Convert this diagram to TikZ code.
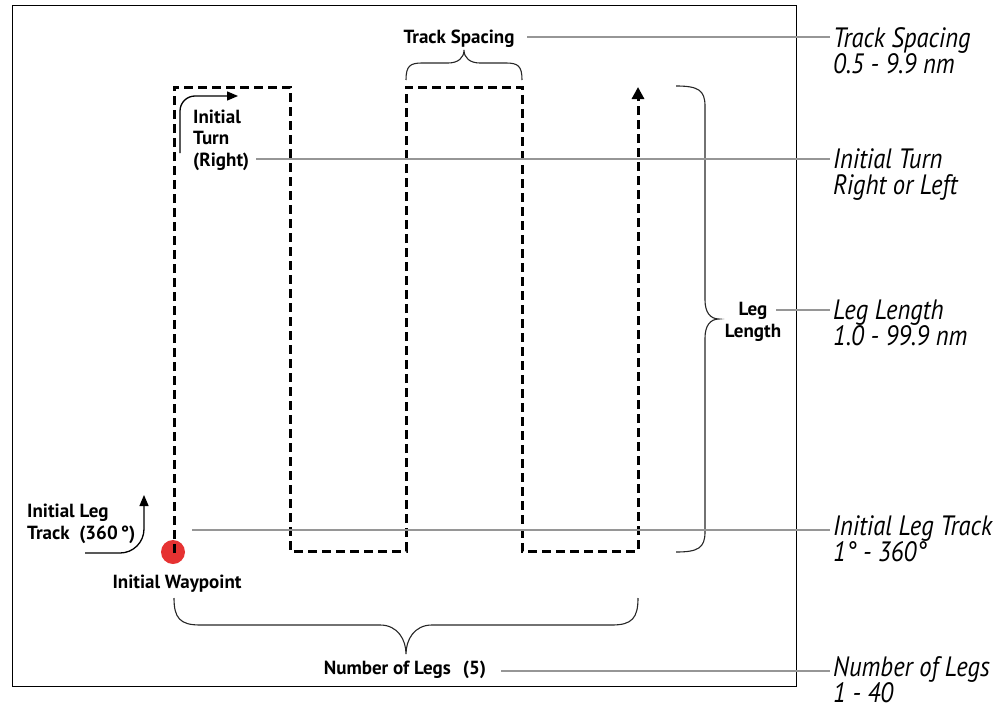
\documentclass[tikz,border=0pt]{standalone}
\usepackage{fontspec}
\setmainfont{PT Sans}
\newfontfamily\rfont{PT Sans}[FakeStretch=0.88]
\usetikzlibrary{arrows.meta}
\definecolor{wpred}{RGB}{230,50,50}
\definecolor{leadgray}{RGB}{150,150,150}
\begin{document}
\begin{tikzpicture}[x=1pt,y=-1pt,
  lbl/.style={font=\bfseries\fontsize{19}{21.5}\selectfont, inner sep=0pt},
  rlbl/.style={font=\rfont\itshape\fontsize{28}{26}\selectfont, align=left, anchor=base west, inner sep=0pt},
  lead/.style={draw=leadgray, line width=2pt},
  trackline/.style={line width=3pt, dash pattern=on 9pt off 5pt},
  bracel/.style={line width=1.1pt, black!85},
  turnarrow/.style={line width=1.3pt, -{Triangle[length=11pt,width=9pt]}}
]
\useasboundingbox (0,0) rectangle (998,709);
% frame
\node[draw, line width=1.4pt, minimum width=784pt, minimum height=681pt, anchor=north west, inner sep=0pt] (frame) at (12,5) {};
% track corners
\coordinate (p0) at (174,553);
\coordinate (p1) at (174,87);
\coordinate (p2) at (290,87);
\coordinate (p3) at (290,551);
\coordinate (p4) at (406,551);
\coordinate (p5) at (406,87);
\coordinate (p6) at (522,87);
\coordinate (p7) at (522,551);
\coordinate (p8) at (638,551);
\coordinate (p9) at (638,87);
\node[circle, fill=wpred, minimum size=24pt, inner sep=0pt] (wp) at (173,552) {};
\draw[trackline, -{Triangle[length=12pt,width=12pt]}] (p0) -- (p1) -- (p2) -- (p3) -- (p4) -- (p5) -- (p6) -- (p7) -- (p8) -- (p9);
% initial turn arrow
\coordinate (ta0) at (180,153);
\coordinate (ta1) at (238,96);
\draw[turnarrow, rounded corners=15pt] (ta0) |- (ta1);
% initial leg track arrow
\coordinate (la0) at (85,553);
\coordinate (la1) at (144,495);
\draw[turnarrow, rounded corners=24pt] (la0) -| (la1);
% braces
\draw[bracel] (406,80) .. controls (406,66) and (410,63) .. (422,63) -- (448,63) .. controls (458,63) and (464,58) .. (464,50) .. controls (464,58) and (470,63) .. (480,63) -- (506,63) .. controls (518,63) and (522,66) .. (522,80);
\draw[bracel] (676,86) .. controls (698,86) and (705,90) .. (705,106) -- (705,300) .. controls (705,312) and (710,319) .. (719,319) .. controls (710,319) and (705,326) .. (705,338) -- (705,532) .. controls (705,548) and (698,552) .. (676,552);
\draw[bracel] (174,598) .. controls (174,618) and (180,625) .. (200,625) -- (380,625) .. controls (398,625) and (406,640) .. (406,654) .. controls (406,640) and (414,625) .. (432,625) -- (612,625) .. controls (632,625) and (638,618) .. (638,598);
% bold labels (multi-line nodes: base = last line)
\node[lbl, anchor=base] (tsl) at (459,44) {Track Spacing};
\node[lbl, align=left, anchor=base west] (itl) at (193,166) {Initial\\Turn\\(Right)};
\node[lbl, align=center, anchor=base] (lll) at (753,337) {Leg\\Length};
\node[lbl, align=left, anchor=base west] (iltl) at (27,539) {Initial Leg\\Track\ \ (360\,°)};
\node[lbl, anchor=base] (iwl) at (177,588) {Initial Waypoint};
\node[lbl, anchor=base] (nll) at (405,674) {Number of Legs\hspace{12pt}(5)};
% right labels (base = second line)
\node[rlbl] (tsr) at (833,74) {Track Spacing\\0.5 - 9.9 nm};
\node[rlbl] (itr) at (833,194) {Initial Turn\\Right or Left};
\node[rlbl] (llr) at (833,345) {Leg Length\\1.0 - 99.9 nm};
\node[rlbl] (iltr) at (833,561) {Initial Leg Track\\1° - 360°};
\node[rlbl] (nlr) at (833,702) {Number of Legs\\1 - 40};
% leader lines
\coordinate (ts0) at (527,37);  \coordinate (ts1) at (830,37);
\coordinate (it0) at (256,159); \coordinate (it1) at (830,159);
\coordinate (ll0) at (776,310); \coordinate (ll1) at (830,310);
\coordinate (ilt0) at (192,530); \coordinate (ilt1) at (830,530);
\coordinate (nl0) at (501,671); \coordinate (nl1) at (830,671);
\draw[lead] (ts0) -- (ts1);
\draw[lead] (it0) -- (it1);
\draw[lead] (ll0) -- (ll1);
\draw[lead] (ilt0) -- (ilt1);
\draw[lead] (nl0) -- (nl1);
\end{tikzpicture}
\end{document}
